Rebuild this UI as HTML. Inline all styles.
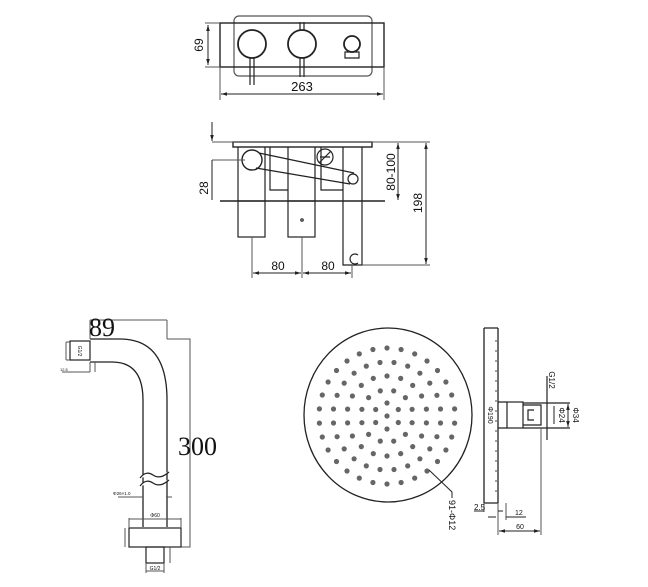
<!DOCTYPE html>
<html><head><meta charset="utf-8">
<style>html,body{margin:0;padding:0;background:#fff}svg{display:block}
svg text{fill:#111;stroke:none;font-family:'Liberation Sans','DejaVu Sans',Arial,sans-serif}
svg text.sf{font-family:'Liberation Serif','DejaVu Serif',serif}</style></head>
<body>
<svg id="s" width="648" height="587" viewBox="0 0 648 587" xmlns="http://www.w3.org/2000/svg" fill="none" stroke="#222" stroke-width="1.2">
<defs><marker id="a" viewBox="0 0 10 10" refX="10" refY="5" markerWidth="6" markerHeight="6" orient="auto-start-reverse"><path d="M0,2 L10,5 L0,8z" fill="#222" stroke="none"/></marker></defs>
<!-- top view -->
<rect x="234" y="16" width="138" height="60" rx="5" stroke="#555"/>
<rect x="220" y="23" width="164" height="44" stroke-width="1.4"/>
<circle cx="252" cy="44" r="14" stroke-width="1.8"/>
<circle cx="302" cy="44" r="14" stroke-width="1.8"/>
<circle cx="352" cy="44" r="8" stroke-width="1.8"/>
<path d="M250,58 V85 M254,58 V85 M300,30 V22 M304,30 V22 M300,58 V77 M304,58 V77 M345,52 h14 v6 h-14z"/>
<path d="M205,23 H220 M205,67 H220" stroke="#555" stroke-width="1"/>
<line x1="208" y1="25" x2="208" y2="65" marker-start="url(#a)" marker-end="url(#a)" stroke-width="1"/>
<text x="203" y="45" font-size="12" transform="rotate(-90 203 45)" text-anchor="middle">69</text>
<path d="M220,67 V100 M384,67 V100" stroke="#555" stroke-width="1"/>
<line x1="221" y1="94" x2="383" y2="94" marker-start="url(#a)" marker-end="url(#a)" stroke-width="1"/>
<text x="302" y="91" font-size="13" text-anchor="middle">263</text>
<!-- side view -->
<rect x="233" y="142" width="139" height="5" stroke-width="1.4"/>
<path d="M220,201 H385" stroke-width="1.4"/>
<path d="M238,147 V201 M265,147 V201 M288,147 V201 M315,147 V201 M270,147 V190 h18 M321,147 V190 h22 M343,147 V201 M362,147 V201"/>
<rect x="238" y="201" width="27" height="36"/>
<rect x="288" y="201" width="27" height="36"/>
<path d="M343,201 V265 H362 V201"/>
<path d="M358,255 a5,5 0 1 0 0,8"/>
<circle cx="302" cy="220" r="1.2"/>
<circle cx="252" cy="160" r="10" stroke-width="1.4"/>
<circle cx="325" cy="157" r="8"/><path d="M319,163 L331,151 M320,157 h10"/>
<path d="M259,153 L354,173 M256,168 L350,184"/>
<circle cx="353" cy="179" r="5"/>
<path d="M212,142 H430 M212,160 H245" stroke="#555" stroke-width="1"/>
<line x1="212" y1="122" x2="212" y2="141" marker-end="url(#a)" stroke-width="1"/>
<line x1="212" y1="160" x2="212" y2="200" stroke-width="1"/>
<text x="208" y="188" font-size="12" transform="rotate(-90 208 188)" text-anchor="middle">28</text>
<line x1="398" y1="143" x2="398" y2="200" marker-start="url(#a)" marker-end="url(#a)" stroke-width="1"/>
<text x="395" y="172" font-size="12" transform="rotate(-90 395 172)" text-anchor="middle">80-100</text>
<path d="M362,265 H430" stroke="#555" stroke-width="1"/>
<line x1="426" y1="143" x2="426" y2="264" marker-start="url(#a)" marker-end="url(#a)" stroke-width="1"/>
<text x="422" y="203" font-size="12" transform="rotate(-90 422 203)" text-anchor="middle">198</text>
<path d="M252,237 V278 M302,237 V278 M352,265 V278" stroke="#555" stroke-width="1"/>
<line x1="253" y1="273" x2="301" y2="273" marker-start="url(#a)" marker-end="url(#a)" stroke-width="1"/>
<line x1="303" y1="273" x2="351" y2="273" marker-start="url(#a)" marker-end="url(#a)" stroke-width="1"/>
<text x="278" y="270" font-size="12" text-anchor="middle">80</text>
<text x="328" y="270" font-size="12" text-anchor="middle">80</text>
<!-- arm -->
<path d="M90,339 H120 Q167,339 167,400 V527" stroke-width="1.3"/>
<path d="M90,362 H112 Q143,362 143,400 V527" stroke-width="1.3"/>
<path d="M90,320 V339 M167,320 V339 M90,320 H167" stroke="#555" stroke-width="1"/>
<rect x="70" y="341" width="20" height="19"/>
<path d="M66,342 h4 M66,360 h4 M66,342 V360 M62,372 H90 M90,362 V372 M95,362 V372" stroke="#555" stroke-width="1"/>
<text x="60" y="371" font-size="4">12.5</text>
<text x="78" y="351" font-size="5" transform="rotate(90 78 351)" text-anchor="middle">G1/2</text>
<text x="89" y="336" font-size="26" class="sf">89</text>
<path d="M140,478 q6,-8 13,-3 t16,-3 M140,486 q6,-8 13,-3 t16,-3" fill="#fff"/>
<path d="M167,339 H190 V547 H181" stroke="#555" stroke-width="1"/>
<text x="178" y="455" font-size="26" class="sf">300</text>
<path d="M118,497 H143 M166,497 H172" stroke="#555" stroke-width="1"/>
<text x="113" y="495" font-size="4.5">Φ26×1.0</text>
<rect x="129" y="528" width="52" height="19"/>
<path d="M129,518 V528 M181,518 V528 M129,519 H181 M125,528 V547" stroke="#555" stroke-width="1"/>
<text x="155" y="517" font-size="5" text-anchor="middle">Φ60</text>
<rect x="146" y="547" width="18" height="16"/>
<path d="M146,563 V573 M164,563 V573 M146,571 H164 M170,547 V563" stroke="#555" stroke-width="1"/>
<text x="155" y="570" font-size="5" text-anchor="middle">G1/2</text>
<!-- shower head -->
<ellipse cx="388" cy="415" rx="84" ry="87" stroke-width="1.3"/>
<g id="dots" fill="#666" stroke="none"></g>
<path d="M429,470 L452,492 V498" stroke-width="1"/>
<text x="449" y="500" font-size="9" transform="rotate(90 449 500)">91-Φ12</text>
<!-- side profile -->
<path d="M484,328 V503 M498,328 V503 M484,328 H498 M484,503 H498" stroke-width="1.3"/>
<path d="M496,340 V498" stroke-dasharray="2 8" stroke="#666"/>
<rect x="507" y="402" width="16" height="26"/>
<path d="M498,402 H507 M498,428 H507 M523,405 h18 v20 h-18 M534,410 h-6 v10 h6 M547,376 V440 M523,403 H570 M523,428 H570" />
<line x1="568" y1="404" x2="568" y2="427" marker-start="url(#a)" marker-end="url(#a)" stroke-width="1"/>
<line x1="554" y1="406" x2="554" y2="424" stroke-width="1"/>
<text x="559" y="415" font-size="8" transform="rotate(90 559 415)" text-anchor="middle">Φ24</text>
<text x="573" y="415" font-size="8" transform="rotate(90 573 415)" text-anchor="middle">Φ34</text>
<text x="549" y="380" font-size="8" transform="rotate(90 549 380)" text-anchor="middle">G1/2</text>
<text x="488" y="415" font-size="7" transform="rotate(90 488 415)" text-anchor="middle">Φ190</text>
<path d="M484,503 V512 M498,503 V535 M506,503 V520 M541,428 V535" stroke="#555" stroke-width="1"/>
<path d="M474,511 H484 M498,511 H503" stroke-width="1"/>
<text x="474" y="510" font-size="8">2.5</text>
<path d="M488,517 H496 M506,517 H526" stroke-width="1"/>
<text x="515" y="515" font-size="7">12</text>
<line x1="499" y1="531" x2="540" y2="531" marker-start="url(#a)" marker-end="url(#a)" stroke-width="1"/>
<text x="520" y="529" font-size="7" text-anchor="middle">60</text>
</svg>
<script>
var g=document.getElementById('dots'),h='',cx=387,cy=416;
function d(x,y){h+='<circle cx="'+x.toFixed(1)+'" cy="'+y.toFixed(1)+'" r="2.6"/>';}
d(cx,cy);
var rings=[[13,6],[26,12],[40,18],[54,24],[68,30]];
for(var j=0;j<rings.length;j++){var r=rings[j][0],n=rings[j][1];
for(var k=0;k<n;k++){var a=Math.PI/2+2*Math.PI*k/n+(j%2?Math.PI/n:0);d(cx+Math.cos(a)*r,cy-Math.sin(a)*r);}}
g.innerHTML=h;
</script>
</body></html>
